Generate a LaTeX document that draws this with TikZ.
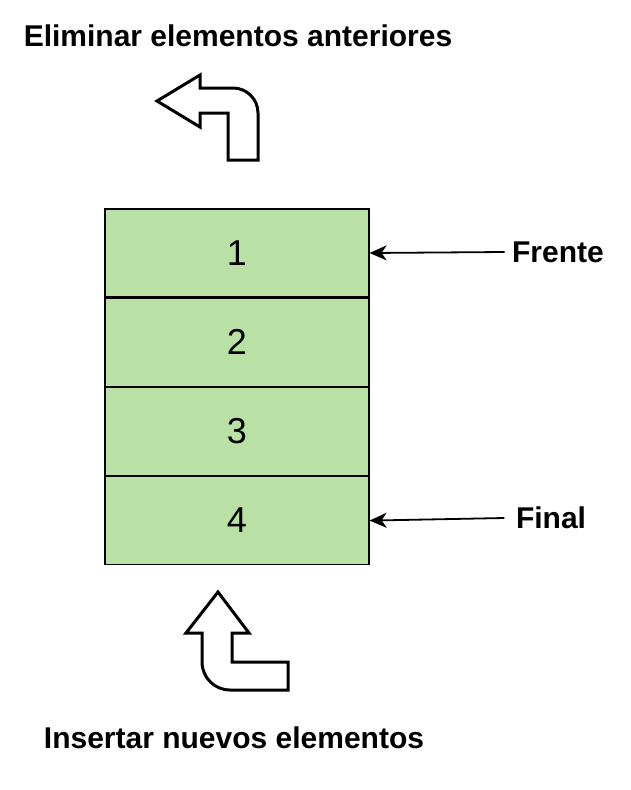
\documentclass[tikz,border=0pt]{standalone}
\usepackage{fontspec}
\setmainfont{Liberation Sans}
\usetikzlibrary{positioning,arrows.meta}
\definecolor{cellgreen}{HTML}{B9E0A5}

\begin{document}
\begin{tikzpicture}[x=1pt,y=-1pt,
  cell/.style={draw, line width=1.2pt, fill=cellgreen, minimum width=264pt,
    minimum height=88pt, inner sep=0pt, font=\fontsize{36}{36}\selectfont},
  lbl/.style={font=\bfseries\fontsize{30}{30}\selectfont},
  bent/.style={draw, line width=3pt, line join=miter},
  pointer/.style={{Stealth[length=17pt,width=15pt,inset=5pt]}-, line width=1.8pt}]
  \useasboundingbox (0,0) rectangle (631,790);
  % the queue
  \node (c1) [cell] at (237,253) {1};
  \node (c2) [cell, below=0pt of c1] {2};
  \node (c3) [cell, below=0pt of c2] {3};
  \node (c4) [cell, below=0pt of c3] {4};
  \node (frente) [lbl] at (558,252) {Frente};
  \node (final) [lbl] at (551,518) {Final};
  \node (quitar) [lbl] at (238,36) {Eliminar elementos anteriores};
  \node (meter) [lbl] at (234,738) {Insertar nuevos elementos};
  \draw[pointer] (c1.east) -- ([xshift=-4pt]frente.west);
  \draw[pointer] (c4.east) -- ([xshift=-8pt]final.west);
  % bent arrows
  \path[bent] (157,101) -- (200,75) -- (200,88) -- (233,88)
    arc[start angle=90, end angle=0, radius=25pt] -- (258,160) -- (228,160)
    -- (228,113) -- (200,113) -- (200,127) -- cycle;
  \path[bent] (218,592) -- (249,633) -- (232,633) -- (232,662) -- (288,662)
    -- (288,690) -- (230,690) arc[start angle=270, end angle=180, radius=28pt]
    -- (202,633) -- (186,633) -- cycle;
\end{tikzpicture}
\end{document}
